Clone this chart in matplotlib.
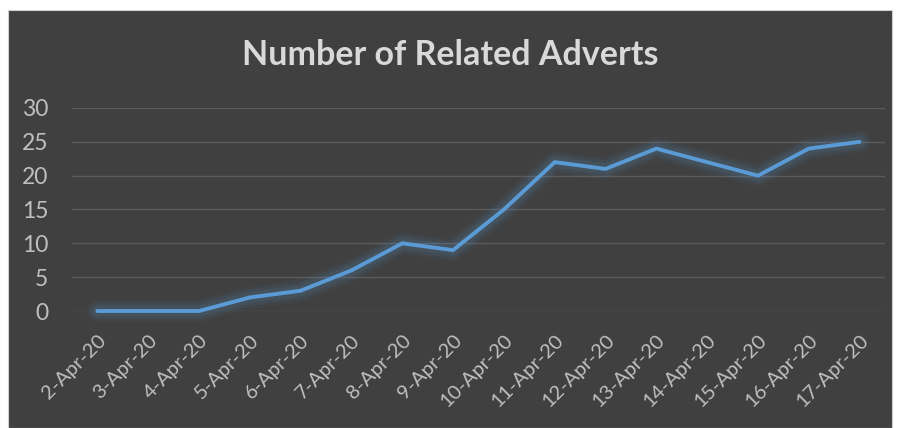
import matplotlib.pyplot as plt
from matplotlib.patches import Rectangle
import matplotlib.transforms as mtransforms
import numpy as np

dates = ['2-Apr-20', '3-Apr-20', '4-Apr-20', '5-Apr-20', '6-Apr-20', '7-Apr-20',
         '8-Apr-20', '9-Apr-20', '10-Apr-20', '11-Apr-20', '12-Apr-20', '13-Apr-20',
         '14-Apr-20', '15-Apr-20', '16-Apr-20', '17-Apr-20']
adverts = [0, 0, 0, 2, 3, 6, 10, 9, 15, 22, 21, 24, 22, 20, 24, 25]

bg = '#404040'
line_col = '#5B9BD5'
text_col = '#d9d9d9'
tick_col = '#bfbfbf'
font = 'Lato'

fig = plt.figure(figsize=(9, 4.28), dpi=100, facecolor='white')
# dark chart panel inside a thin white margin
fig.patches.append(Rectangle((8 / 900, 0), 884 / 900, 418 / 428, transform=fig.transFigure,
                             facecolor=bg, edgecolor='#d0d0d0', linewidth=0.8, zorder=-5))

ax = fig.add_axes([72 / 900, (428 - 311) / 428, (885 - 72) / 900, 203 / 428])
ax.set_facecolor('none')

x = np.arange(len(dates))
# soft glow under the line
for w, a in [(16, 0.05), (12, 0.07), (8, 0.1)]:
    ax.plot(x, adverts, color=line_col, linewidth=w, alpha=a, solid_capstyle='round',
            solid_joinstyle='round', clip_on=False)
ax.plot(x, adverts, color=line_col, linewidth=2.8, solid_capstyle='round',
        solid_joinstyle='round', clip_on=False)

ax.set_xlim(-0.5, len(dates) - 0.5)
ax.set_ylim(0, 30)
ax.set_yticks(range(0, 31, 5))
ax.grid(axis='y', color='#5a5a5a', linewidth=1)
ax.set_axisbelow(True)
for s in ax.spines.values():
    s.set_visible(False)
ax.set_xticks(x)
ax.set_xticklabels(dates, rotation=45, ha='right', va='top', rotation_mode='anchor',
                   color=tick_col, fontsize=14.5, family=font)
shift = mtransforms.ScaledTranslation(5 / 72, 0, fig.dpi_scale_trans)
for lab in ax.get_xticklabels():
    lab.set_transform(lab.get_transform() + shift)
ax.tick_params(axis='x', length=0, pad=15)
ax.tick_params(axis='y', length=0, pad=17, labelcolor=tick_col, labelsize=16.5)
for lab in ax.get_yticklabels():
    lab.set_family(font)

fig.text(0.5, (428 - 55) / 428, 'Number of Related Adverts', ha='center', va='center',
         fontsize=24.5, fontweight='bold', color=text_col, family=font)

fig.savefig('out.png', dpi=100, facecolor='white')
